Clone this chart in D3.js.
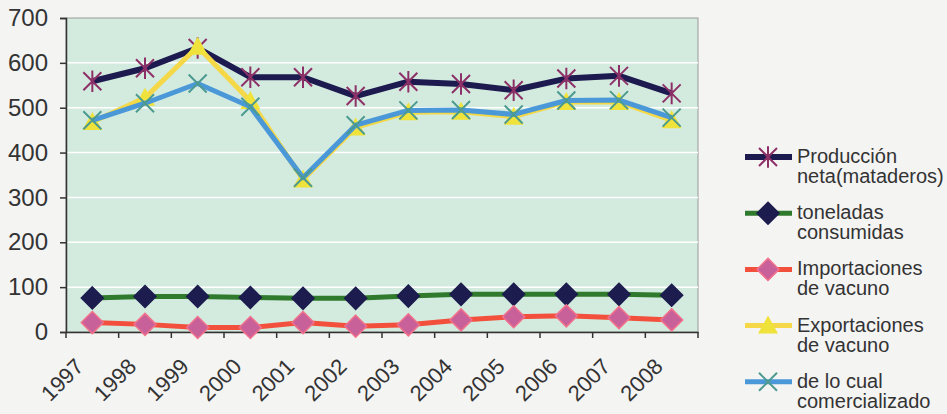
<!DOCTYPE html>
<html><head><meta charset="utf-8">
<script src="https://cdn.jsdelivr.net/npm/d3@7"></script>
<style>
html,body{margin:0;padding:0;background:#f4f4f3;}
svg{display:block;font-family:"Liberation Sans",Arial,sans-serif;}
</style></head>
<body><svg id="c" width="947" height="414"></svg>
<script>
const years = ["1997","1998","1999","2000","2001","2002","2003","2004","2005","2006","2007","2008"];
const produccion = [559,588,633,568,568,526,558,553,539,565,571,532];
const toneladas = [76,79,79,77,75,75,80,84,84,84,84,82];
const importaciones = [21,17,10,10,21,13,16,27,34,36,32,27];
const exportaciones = [468,522,636,515,340,456,490,491,480,513,513,472];
const comercializado = [472,510,554,502,344,461,494,495,485,516,517,478];
const yTicks = [0,100,200,300,400,500,600,700];

const series = [
  {name:["Producción","neta(mataderos)"], values:produccion, line:"#1c1a4e", marker:"star", mcolor:"#8e3068", lw:6},
  {name:["toneladas","consumidas"], values:toneladas, line:"#2f7a2c", marker:"diamond", mcolor:"#1c1c4e", lw:5},
  {name:["Importaciones","de vacuno"], values:importaciones, line:"#f2503c", marker:"diamond", mcolor:"#c8609a", stroke:"#f2708a", lw:5},
  {name:["Exportaciones","de vacuno"], values:exportaciones, line:"#f4d848", marker:"triangle", mcolor:"#efe23a", lw:5},
  {name:["de lo cual","comercializado"], values:comercializado, line:"#4a98d8", marker:"x", mcolor:"#4c9a90", lw:5}
];

const svg = d3.select("#c");
const L=66, T=18, R=698, B=332;
const x = d3.scaleBand().domain(years).range([L,R]);
const y = d3.scaleLinear().domain([0,700]).range([B,T]);

svg.append("rect").attr("x",L).attr("y",T).attr("width",R-L).attr("height",B-T)
  .attr("fill","#d3eadf").attr("stroke","#9a9a9a").attr("stroke-width",1);

svg.append("g").selectAll("line").data(yTicks.slice(1,-1)).join("line")
  .attr("x1",L).attr("x2",R).attr("y1",d=>y(d)).attr("y2",d=>y(d))
  .attr("stroke","#ffffff").attr("stroke-width",1.5);

// y axis
const ya = svg.append("g").attr("transform",`translate(${L},0)`)
  .call(d3.axisLeft(y).tickValues(yTicks).tickSize(6).tickPadding(12));
ya.select(".domain").attr("stroke","#333").attr("stroke-width",1.5);
ya.selectAll(".tick line").attr("stroke","#333").attr("stroke-width",1.5);
ya.selectAll("text").attr("font-size",24).attr("fill","#333").attr("font-family","Liberation Sans, Arial, sans-serif");

// x axis
const xa = svg.append("g").attr("transform",`translate(0,${B})`)
  .call(d3.axisBottom(x).tickSize(0).tickFormat(""));
xa.select(".domain").attr("stroke","#333").attr("stroke-width",1.5);
const bounds = years.map(d=>x(d)).concat([R]);
svg.append("g").selectAll("line").data(bounds).join("line")
  .attr("x1",d=>d).attr("x2",d=>d).attr("y1",B).attr("y2",B+6)
  .attr("stroke","#333").attr("stroke-width",1.5);
svg.append("g").selectAll("text").data(years).join("text")
  .attr("transform",d=>`translate(${x(d)+8},${B+25}) rotate(-45)`)
  .attr("text-anchor","end").attr("dy","0.7em")
  .attr("font-size",22).attr("fill","#333").text(d=>d);

function drawMarker(g, type, cx, cy, s){
  if(type==="star"){
    const r=9;
    g.append("path").attr("d",`M${cx-r},${cy-r}L${cx+r},${cy+r}M${cx-r},${cy+r}L${cx+r},${cy-r}M${cx},${cy-r*1.2}L${cx},${cy+r*1.2}`)
      .attr("stroke",s.mcolor).attr("stroke-width",2).attr("fill","none");
  } else if(type==="diamond"){
    const r=11;
    g.append("path").attr("d",`M${cx},${cy-r}L${cx+r},${cy}L${cx},${cy+r}L${cx-r},${cy}Z`)
      .attr("fill",s.mcolor).attr("stroke",s.stroke||s.mcolor).attr("stroke-width",1.5);
  } else if(type==="triangle"){
    const r=10;
    g.append("path").attr("d",`M${cx},${cy-r}L${cx+r},${cy+r*0.8}L${cx-r},${cy+r*0.8}Z`)
      .attr("fill",s.mcolor);
  } else if(type==="x"){
    const r=9;
    g.append("path").attr("d",`M${cx-r},${cy-r}L${cx+r},${cy+r}M${cx-r},${cy+r}L${cx+r},${cy-r}`)
      .attr("stroke",s.mcolor).attr("stroke-width",2).attr("fill","none");
  }
}

const line = d3.line().x((d,i)=>x(years[i])+x.bandwidth()/2).y(d=>y(d));
const drawOrder = [1,2,0,3,4];
drawOrder.forEach(k=>{
  const s = series[k];
  const g = svg.append("g");
  g.append("path").attr("d",line(s.values)).attr("fill","none")
    .attr("stroke",s.line).attr("stroke-width",s.lw).attr("stroke-linejoin","round");
  s.values.forEach((v,i)=>drawMarker(g, s.marker, x(years[i])+x.bandwidth()/2, y(v), s));
});

// legend
const lg = svg.append("g");
series.forEach((s,i)=>{
  const cy = 157 + i*56.2;
  lg.append("line").attr("x1",745).attr("x2",792).attr("y1",cy).attr("y2",cy)
    .attr("stroke",s.line).attr("stroke-width",s.lw);
  drawMarker(lg, s.marker, 768, cy, s);
  s.name.forEach((t,j)=>{
    lg.append("text").attr("x",797).attr("y",cy+6+j*20).attr("font-size",20).attr("fill","#333").text(t);
  });
});
</script></body></html>
